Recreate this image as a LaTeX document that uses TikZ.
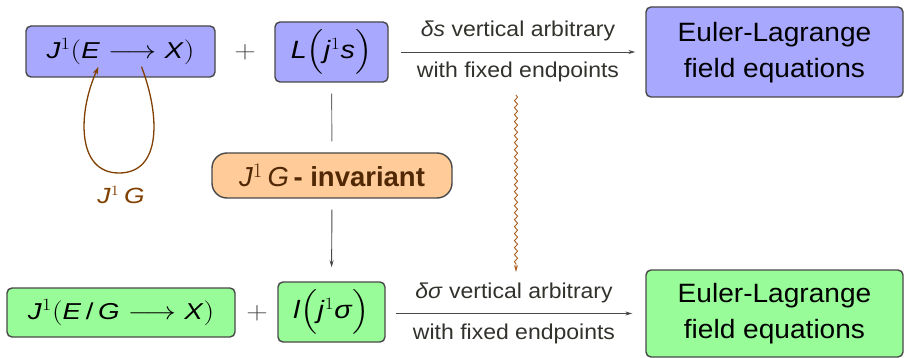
\documentclass[tikz,border=0pt]{standalone}
\usepackage{amsmath}
\usepackage{graphicx}
\usepackage{fontspec}
\setmainfont{Liberation Sans}
\usetikzlibrary{arrows.meta,decorations.pathmorphing}
\definecolor{boxblue}{RGB}{168,168,255}
\definecolor{boxgreen}{RGB}{152,252,152}
\definecolor{boxorange}{RGB}{255,204,153}
\definecolor{edgegray}{RGB}{72,72,72}
\definecolor{loopbrown}{RGB}{128,64,0}
\definecolor{wavebrown}{RGB}{170,95,30}
\definecolor{darkbrown}{RGB}{80,40,5}
\definecolor{labelgray}{RGB}{50,50,45}
\newcommand\vi[1]{\textit{#1}}
\newcommand\longto{$\;\longrightarrow\;$}
% horizontally widened lettering
\newcommand\wide[2][1.2]{\scalebox{#1}[1]{#2}}
\newcommand\twolines[2]{\wide[1.06]{\begin{tabular}{@{}c@{}}#1\\#2\end{tabular}}}
\begin{document}
\begin{tikzpicture}[x=1pt,y=-1pt,
  termbox/.style={draw=edgegray,line width=1.4pt,rounded corners=5pt,inner sep=0pt,
    font=\fontsize{23}{28}\selectfont},
  elbox/.style={termbox,font=\fontsize{26.5}{36}\selectfont},
  plus/.style={text=edgegray,font=\fontsize{24}{30}\selectfont},
  flow/.style={draw=edgegray,line width=0.9pt,-{Stealth[length=7pt,width=4pt]}},
  arrowlabel/.style={text=labelgray,font=\fontsize{21.5}{26}\selectfont,anchor=base,
    inner sep=0pt},
  wave/.style={draw=wavebrown,line width=0.9pt,decorate,
    decoration={snake,amplitude=1.6pt,segment length=7pt,post length=5pt},
    -{Stealth[length=7pt,width=4pt]}}]
\useasboundingbox (0,0) rectangle (915,358);

% top row: unreduced problem
\node[termbox,fill=boxblue,minimum width=189pt,minimum height=51pt] (A) at (120.5,51.5)
  {\wide{\vi{J}$^1($\vi{E}\longto\vi{X}$)$}};
\node[plus] (p1) at (245,52) {\wide{$+$}};
\node[termbox,fill=boxblue,minimum width=113pt,minimum height=60pt,
  font=\fontsize{25}{30}\selectfont] (B) at (331.5,52)
  {\wide[1.15]{\vi{L}$\Bigl($\vi{j}$^1$\vi{s}$\Bigr)$}};
\node[elbox,fill=boxblue,minimum width=257pt,minimum height=90pt] (C) at (774.5,52)
  {\twolines{Euler-Lagrange}{field equations}};

% bottom row: reduced problem
\node[termbox,fill=boxgreen,minimum width=228pt,minimum height=49pt] (D) at (121,312.5)
  {\wide{\vi{J}$^1($\vi{E}\,/\,\vi{G}\longto\vi{X}$)$}};
\node[plus] (p2) at (257,313) {\wide{$+$}};
\node[termbox,fill=boxgreen,minimum width=107pt,minimum height=60pt,
  font=\fontsize{25}{30}\selectfont] (E) at (331.5,312)
  {\wide[1.15]{\vi{l}$\Bigl($\vi{j}$^1$\vi{σ}$\Bigr)$}};
\node[elbox,fill=boxgreen,minimum width=257pt,minimum height=87pt] (F) at (774.5,313.5)
  {\twolines{Euler-Lagrange}{field equations}};

% invariance hypothesis
\node[draw=edgegray,line width=1.4pt,fill=boxorange,rounded corners=15pt,
  minimum width=240pt,minimum height=45pt,text=darkbrown,inner sep=0pt,
  font=\fontsize{27.5}{32}\selectfont] (G) at (332,175.5)
  {\vi{J}$^1$\,\vi{G}\,\textbf{- invariant}};

% variational arrows
\draw[flow] ([xshift=12pt]B.east) -- ([xshift=-10pt]C.west)
  node[arrowlabel,midway,yshift=15.5pt] {\wide[1.07]{\vi{δs} vertical arbitrary}}
  node[arrowlabel,midway,yshift=-25.5pt] {\wide[1.07]{with fixed endpoints}};
\draw[flow] ([xshift=10pt]E.east |- F.west) -- ([xshift=-13pt]F.west)
  node[arrowlabel,midway,yshift=15pt] {\wide[1.07]{\vi{δσ} vertical arbitrary}}
  node[arrowlabel,midway,yshift=-26pt] {\wide[1.07]{with fixed endpoints}};

% reduction
\draw[draw=edgegray!80,line width=0.9pt,shorten <=11pt,shorten >=11pt] (B.south) -- (G.north);
\draw[flow,shorten <=11pt,shorten >=14pt] (G.south) -- (E.north);

% variations descend to the quotient
\coordinate (w1) at (516,95);
\coordinate (w2) at (516,272);
\draw[wave] (w1) -- (w2);

% group action loop
\coordinate (l1) at ([xshift=21pt,yshift=11pt]A.south);
\coordinate (l2) at ([xshift=-22pt,yshift=11pt]A.south);
\draw[draw=loopbrown,line width=1.3pt,-{Stealth[length=8pt,width=5pt]}]
  (l1) .. controls (160,115) and (162,173) .. (119,173)
       .. controls (76,173) and (78,112) .. (l2);
\node[text=loopbrown,font=\fontsize{22}{26}\selectfont] (lg) at (121,195) {\wide{\vi{J}$^1$\,\vi{G}}};
\end{tikzpicture}
\end{document}
